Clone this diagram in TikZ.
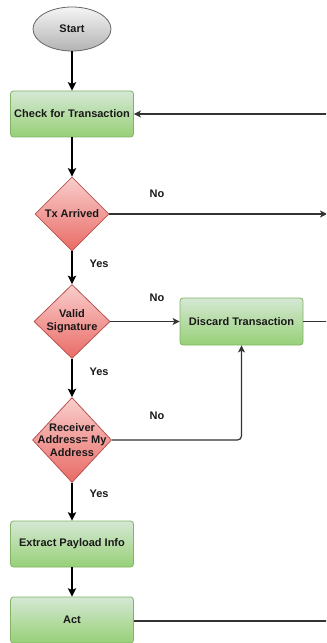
\documentclass[tikz,border=0pt]{standalone}
\usepackage{fontspec}
\setmainfont{Liberation Sans}
\usetikzlibrary{shapes.geometric,arrows.meta}

\definecolor{procTop}{HTML}{D5E8D4}
\definecolor{procBot}{HTML}{97D077}
\definecolor{procLine}{HTML}{82B366}
\definecolor{decTop}{HTML}{F8CECC}
\definecolor{decBot}{HTML}{EA6B66}
\definecolor{decLine}{HTML}{B85450}
\definecolor{termTop}{HTML}{F5F5F5}
\definecolor{termBot}{HTML}{B3B3B3}
\definecolor{termLine}{HTML}{666666}
\definecolor{wire}{HTML}{333333}

\tikzset{
  txt/.style={font=\fontsize{11bp}{12.8bp}\selectfont\bfseries, text=black!90},
  terminal/.style={ellipse, draw=termLine, line width=0.8bp,
    top color=termTop, bottom color=termBot,
    minimum width=78bp, minimum height=44bp, inner sep=0pt, txt},
  process/.style={rectangle, rounded corners=3bp, draw=procLine, line width=0.8bp,
    top color=procTop, bottom color=procBot,
    minimum width=123bp, minimum height=46bp, inner sep=0pt, txt},
  decision/.style={diamond, draw=decLine, line width=0.8bp,
    top color=decTop, bottom color=decBot, inner sep=0pt},
  dectext/.style={txt, align=center, inner sep=0pt},
  mainflow/.style={line width=1.7bp, black,
    -{Stealth[length=8.5bp, width=8.5bp, inset=2bp]}},
  sideflow/.style={line width=1.2bp, wire,
    -{Stealth[length=7bp, width=7bp, inset=1.8bp]}},
  sideline/.style={line width=1.2bp, wire},
  branch/.style={txt, inner sep=0pt},
}

\begin{document}
\begin{tikzpicture}[x=1bp, y=-1bp]
  \clip (0,0) rectangle (326,643);
  \fill[white] (0,0) rectangle (326,643);

  % main column
  \node[terminal] (start) at (72,29) {Start};
  \node[process] (check) at (72,114) {Check for Transaction};
  \node[decision, minimum width=74bp, minimum height=74bp,
        label={[dectext]center:Tx Arrived}] (tx) at (72,214) {};
  \node[decision, minimum width=76bp, minimum height=74bp,
        label={[dectext]center:Valid\\Signature}] (valid) at (72,321.5) {};
  \node[decision, minimum width=79bp, minimum height=85bp,
        label={[dectext]center:Receiver\\Address= My\\Address}] (recv) at (72,440) {};
  \node[process] (extract) at (72,544) {Extract Payload Info};
  \node[process] (act) at (72,620) {Act};

  % side branch
  \node[process, minimum height=47bp] (discard) at (241.5,321.5) {Discard Transaction};

  % loose ends running off the right edge
  \coordinate (loopin) at (340,114);
  \coordinate (txout) at (327,214);
  \coordinate (discout) at (340,321.5);
  \coordinate (actout) at (340,621);

  % vertical flow
  \draw[mainflow] (start) -- (check);
  \draw[mainflow] (check) -- (tx);
  \draw[mainflow] (tx) -- (valid);
  \draw[mainflow] (valid) -- (recv);
  \draw[mainflow] (recv) -- (extract);
  \draw[mainflow] (extract) -- (act);

  % branches
  \draw[sideflow] (loopin) -- (check.east);
  \draw[sideflow] (tx.east) -- (txout);
  \draw[sideflow] (valid.east) -- (discard.west);
  \draw[sideflow, rounded corners=4bp] (recv.east) -| (discard.south);
  \draw[sideline] (discard.east) -- (discout);
  \draw[sideline] (act.east |- actout) -- (actout);

  % branch labels
  \node[branch] (no1) at (157,194) {No};
  \node[branch] (no2) at (157,298) {No};
  \node[branch] (no3) at (157,416) {No};
  \node[branch] (yes1) at (99,264) {Yes};
  \node[branch] (yes2) at (99,372) {Yes};
  \node[branch] (yes3) at (99,494) {Yes};
\end{tikzpicture}
\end{document}
